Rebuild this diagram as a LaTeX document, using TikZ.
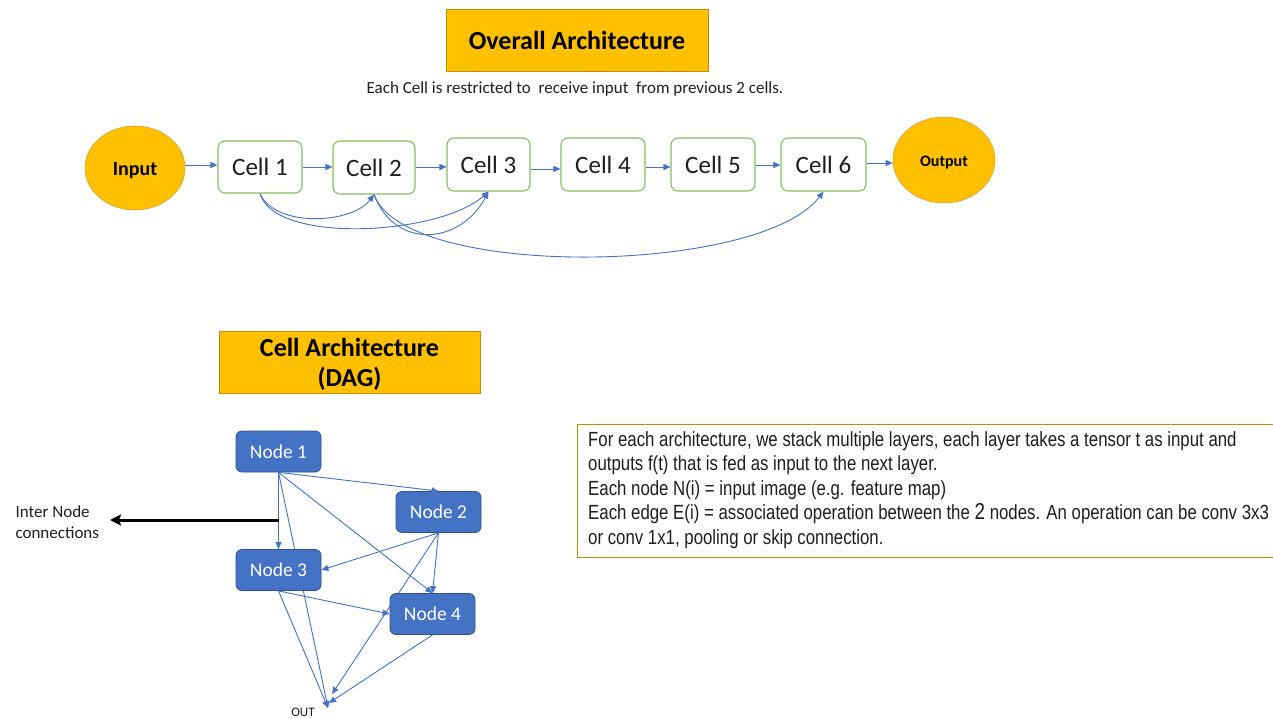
\documentclass[tikz,border=0pt]{standalone}
\usepackage{fontspec}
\setmainfont{Carlito}
\newfontfamily\narrowfont{Liberation Sans}[FakeStretch=0.82]
\usetikzlibrary{arrows.meta,shapes.geometric,backgrounds}
\definecolor{gold}{RGB}{255,192,0}
\definecolor{golddark}{RGB}{191,144,0}
\definecolor{cellgreen}{RGB}{130,190,95}
\definecolor{nodeblue}{RGB}{68,114,196}
\definecolor{nodeborder}{RGB}{47,82,143}
\definecolor{txtgray}{RGB}{30,30,30}
\newcommand{\lowerby}[2]{\raisebox{-#1}[\height][\depth]{#2}}
\tikzset{
  titlebox/.style={draw=golddark,line width=0.8pt,fill=gold,inner sep=0pt,font=\fontsize{26}{31}\selectfont\bfseries,align=center},
  cellbox/.style={draw=cellgreen,line width=1.1pt,fill=white,rounded corners=7pt,inner sep=0pt,font=\fontsize{25}{28}\selectfont,text=txtgray},
  endpt/.style={ellipse,draw=golddark!80,line width=0.6pt,fill=gold,inner sep=0pt,font=\bfseries},
  dagnode/.style={draw=nodeborder,line width=0.8pt,fill=nodeblue,rounded corners=6pt,inner sep=0pt,minimum width=85pt,minimum height=41pt,text=white,font=\fontsize{19.5}{22}\selectfont},
  conn/.style={draw=nodeblue,line width=0.9pt,-{Triangle[length=7pt,width=6pt]}},
  thickarrow/.style={draw=black,line width=3pt,-{Stealth[length=11pt,width=11pt,inset=2pt]}},
}
\begin{document}
\begin{tikzpicture}[x=1pt,y=-1pt]
\useasboundingbox (0,0) rectangle (1273,719);
% titles
\node[titlebox,minimum width=262pt,minimum height=62pt] (t1) at (577,40) {Overall Architecture};
\node[font=\fontsize{17}{19}\selectfont,text=txtgray] (sub) at (575,89) {Each Cell is restricted to\ \ receive input\ \ from previous 2 cells.};
% overall row
\node[endpt,minimum width=100pt,minimum height=84pt,font=\fontsize{20}{22}\selectfont\bfseries] (in) at (135,168) {\lowerby{3pt}{Input}};
\node[cellbox,minimum width=84pt,minimum height=52pt] (c1) at (260,167) {Cell 1};
\node[cellbox,minimum width=82pt,minimum height=53pt] (c2) at (374,167.5) {Cell 2};
\node[cellbox,minimum width=83pt,minimum height=53pt] (c3) at (488.5,164.5) {Cell 3};
\node[cellbox,minimum width=84pt,minimum height=53pt] (c4) at (603,164.5) {Cell 4};
\node[cellbox,minimum width=84pt,minimum height=53pt] (c5) at (713,164.5) {Cell 5};
\node[cellbox,minimum width=85pt,minimum height=53pt] (c6) at (823.5,164.5) {Cell 6};
\node[endpt,minimum width=102pt,minimum height=86pt,font=\fontsize{16}{18}\selectfont\bfseries] (out) at (944,160) {\lowerby{3pt}{Output}};
\draw[conn] (in.east |- 0,165) -- (c1.west |- 0,165);
\draw[conn] (c1.east |- 0,167) -- (c2.west |- 0,167);
\draw[conn] (c2.east |- 0,167) -- (c3.west |- 0,167);
\draw[conn] (c3.east |- 0,169) -- (c4.west |- 0,169);
\draw[conn] (c4.east |- 0,167) -- (c5.west |- 0,167);
\draw[conn] (c5.east |- 0,165) -- (c6.west |- 0,165);
\draw[conn] (c6.east |- 0,163) -- (out.west |- 0,163);
% skip curves
\draw[conn] (c1.south) .. controls (275,228) and (352,224) .. (c2.south);
\draw[conn] (c1.south) .. controls (275,245) and (440,235) .. (c3.south);
\draw[conn] (c2.south) .. controls (395,250) and (460,245) .. (c3.south);
\draw[conn] (c2.south) .. controls (405,280) and (760,275) .. (c6.south);
% cell architecture
\node[titlebox,minimum width=261pt,minimum height=62pt] (t2) at (349.5,362) {\lowerby{2pt}{Cell Architecture}\\[-1pt]\lowerby{2pt}{(DAG)}};
\node[dagnode] (n1) at (278.5,451.5) {Node 1};
\node[dagnode] (n2) at (438.5,512) {Node 2};
\node[dagnode] (n3) at (278.5,570) {Node 3};
\node[dagnode] (n4) at (432.5,614) {Node 4};
\coordinate (o1) at (328,708);
\coordinate (o2) at (332,694);
\coordinate (o3) at (329,703);
\node[font=\fontsize{13}{15}\selectfont,text=txtgray] (outl) at (303,712) {OUT};
\begin{scope}[on background layer]
\draw[conn] (n1.south) -- (o1);
\draw[conn] (n2.south) -- (o2);
\end{scope}
\draw[conn] (n1.south) -- (n3.north);
\draw[conn] (n1.south) -- (n2.north);
\draw[conn] (n1.south) -- (n4.north);
\draw[conn] (n2.south) -- (n3.east);
\draw[conn] (n2.south) -- (n4.north);
\draw[conn] (n3.south) -- (n4.west);
\draw[conn] (n3.south) -- (o1);
\draw[conn] (n4.south) -- (o3);
% inter node connections
\coordinate (ic) at (278.5,520);
\node[font=\fontsize{17}{21}\selectfont,text=txtgray,align=left,anchor=west] (inl) at (12,522) {Inter Node\\connections};
\draw[thickarrow] (ic) -- (110,520);
% description box
\node[draw=golddark,line width=0.9pt,anchor=north west,minimum width=696pt,minimum height=133pt,inner sep=0pt] (desc) at (577,424) {};
\node[anchor=north west,inner sep=0pt,align=left,font=\narrowfont\fontsize{20.5}{24.5}\selectfont,text=txtgray] (desct) at (588,431) {For each architecture, we stack multiple layers, each layer takes a tensor t\ as input and\\
outputs f(t)\ that is fed\ as input to the next layer.\\
Each node N(i) = input image (e.g. feature\ map)\\
Each edge E(i) = associated operation between the {\fontsize{23}{24.5}\selectfont 2} nodes. An operation can be conv 3x3\\
or conv 1x1, pooling or skip connection.};
\end{tikzpicture}
\end{document}
